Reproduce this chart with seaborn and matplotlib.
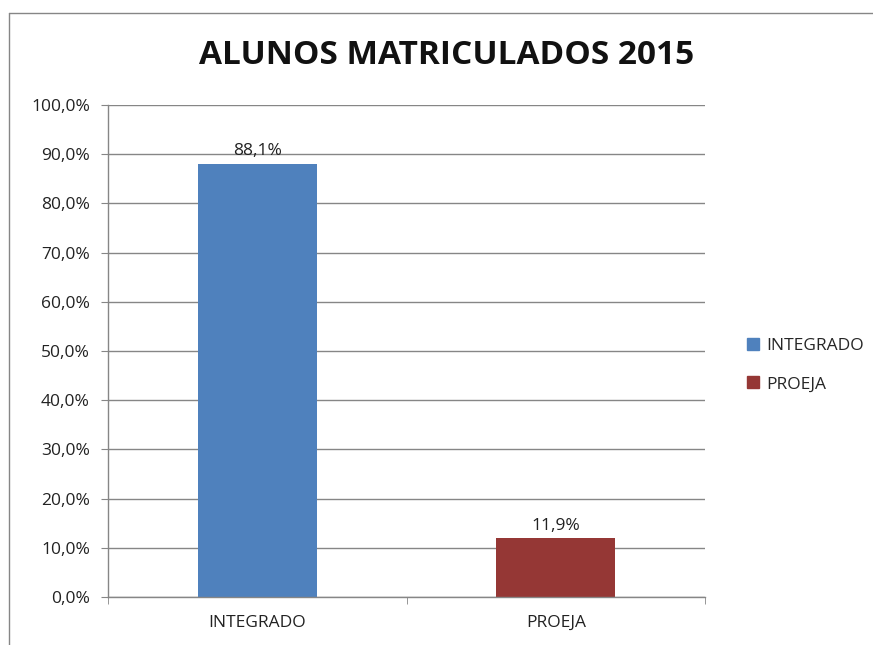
import pandas as pd
import matplotlib.pyplot as plt
import matplotlib.ticker as mticker
from matplotlib.lines import Line2D
import seaborn as sns

# dados
categorias = ['INTEGRADO', 'PROEJA']
percentuais = [88.1, 11.9]
cores = ['#4F81BD', '#953735']
titulo = 'ALUNOS MATRICULADOS 2015'

df = pd.DataFrame({'curso': categorias, 'pct': percentuais})

sns.set_style('white')
plt.rcParams['font.family'] = ['Open Sans', 'DejaVu Sans']

fig = plt.figure(figsize=(8.73, 6.45), dpi=100)
ax = fig.add_axes([108 / 873, 1 - 597 / 645, (705 - 108) / 873, (597 - 105) / 645])

sns.barplot(data=df, x='curso', y='pct', hue='curso', palette=cores, width=0.4,
            dodge=False, legend=False, ax=ax, edgecolor='none', saturation=1)

ax.set_ylim(0, 100)
ax.set_xlim(-0.5, 1.5)
ax.set_yticks(range(0, 101, 10))
ax.yaxis.set_major_formatter(mticker.FuncFormatter(lambda v, p: f'{v:.1f}%'.replace('.', ',')))
ax.yaxis.grid(True, color='#868686', linewidth=1)
ax.set_axisbelow(True)
ax.set_xlabel('')
ax.set_ylabel('')

for s in ['top', 'right']:
    ax.spines[s].set_visible(False)
for s in ['left', 'bottom']:
    ax.spines[s].set_color('#868686')
    ax.spines[s].set_linewidth(1)

ax.tick_params(axis='y', length=5, color='#868686', labelsize=12.5, labelcolor='#222222', left=True, pad=8)
ax.tick_params(axis='x', length=0, labelsize=12.5, labelcolor='#222222', pad=13)
ax.set_xticks([-0.5, 0.5, 1.5], minor=True)
ax.tick_params(axis='x', which='minor', length=5, color='#868686', bottom=True)

# rótulos de dados
for i, v in enumerate(percentuais):
    ax.annotate(f'{v:.1f}%'.replace('.', ','), (i, v), xytext=(0, 3), textcoords='offset points',
                ha='center', va='bottom', fontsize=12.5, color='#222222')

# legenda
handles = [plt.Rectangle((0, 0), 1, 1, color=c) for c in cores]
fig.legend(handles, categorias, loc='center left', bbox_to_anchor=(738 / 873, 1 - 365 / 645),
           frameon=False, fontsize=12.5, handlelength=0.7, handleheight=0.7,
           handletextpad=0.4, labelspacing=1.3, borderpad=0)

fig.text(447 / 873, 1 - 55 / 645, titulo, ha='center', va='center', fontsize=24,
         fontweight='bold', color='#111111')

# borda da área do gráfico
fig.add_artist(Line2D([9 / 873, 9 / 873], [0, 1 - 13 / 645], transform=fig.transFigure,
                      color='#868686', linewidth=1))
fig.add_artist(Line2D([9 / 873, 1], [1 - 13 / 645, 1 - 13 / 645], transform=fig.transFigure,
                      color='#868686', linewidth=1))

fig.savefig('out.png', dpi=100)
